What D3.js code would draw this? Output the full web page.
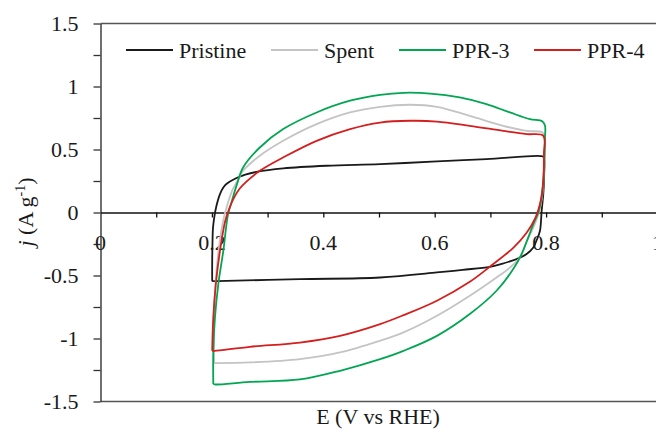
<!DOCTYPE html>
<html>
<head>
<meta charset="utf-8">
<script src="https://cdn.jsdelivr.net/npm/d3@7"></script>
<style>
  html, body { margin: 0; padding: 0; background: #fff; }
  svg { display: block; }
</style>
</head>
<body>
<svg id="chart" width="656" height="435"></svg>
<script>
// ---- Data (E in V vs RHE, j in A g^-1), closed CV loops ----
const seriesNames = ["Pristine", "Spent", "PPR-3", "PPR-4"];
const seriesColors = ["#1a1a1a", "#c4c4c4", "#00a651", "#d41f1f"];

const pristine = [
  [0.2005,-0.545],[0.2005,-0.40],[0.201,-0.25],[0.202,-0.12],[0.2045,-0.03],[0.208,0.05],
  [0.2145,0.146],[0.2205,0.198],[0.2265,0.228],[0.2415,0.268],[0.260,0.300],[0.280,0.322],
  [0.328,0.350],[0.406,0.371],[0.502,0.384],[0.604,0.405],[0.693,0.424],[0.790,0.448],
  [0.7955,0.44],[0.7965,0.30],[0.795,0.15],[0.792,0.013],[0.789,-0.145],[0.783,-0.22],
  [0.777,-0.278],[0.765,-0.33],[0.747,-0.37],[0.720,-0.408],[0.699,-0.431],[0.650,-0.455],
  [0.604,-0.476],[0.502,-0.516],[0.358,-0.529],[0.2086,-0.545],[0.2005,-0.545]
];
const spent = [
  [0.204,-1.195],[0.2035,-0.9],[0.206,-0.6],[0.212,-0.3],[0.221,-0.05],[0.229,0.08],
  [0.237,0.18],[0.247,0.26],[0.256,0.331],[0.286,0.45],[0.328,0.569],[0.388,0.701],
  [0.448,0.794],[0.502,0.839],[0.556,0.855],[0.604,0.839],[0.663,0.767],[0.723,0.688],
  [0.765,0.648],[0.793,0.636],[0.797,0.60],[0.796,0.3],[0.792,0.1],[0.785,-0.03],
  [0.776,-0.13],[0.765,-0.23],[0.753,-0.357],[0.735,-0.437],[0.711,-0.516],[0.663,-0.661],
  [0.604,-0.82],[0.544,-0.952],[0.502,-1.018],[0.43,-1.111],[0.358,-1.164],[0.268,-1.19],
  [0.208,-1.195],[0.204,-1.195]
];
const ppr3 = [
  [0.2025,-1.362],[0.2025,-1.10],[0.2055,-0.833],[0.2115,-0.568],[0.2205,-0.304],[0.229,-0.013],
  [0.236,0.093],[0.245,0.225],[0.256,0.357],[0.286,0.516],[0.328,0.662],[0.388,0.794],
  [0.448,0.887],[0.502,0.934],[0.544,0.95],[0.592,0.944],[0.645,0.913],[0.693,0.86],
  [0.735,0.794],[0.771,0.741],[0.793,0.725],[0.798,0.69],[0.798,0.595],[0.796,0.331],
  [0.792,0.119],[0.786,0.0],[0.777,-0.092],[0.768,-0.198],[0.756,-0.33],[0.741,-0.449],
  [0.711,-0.621],[0.663,-0.806],[0.604,-0.979],[0.544,-1.098],[0.502,-1.164],[0.43,-1.256],
  [0.358,-1.325],[0.268,-1.345],[0.207,-1.365],[0.2025,-1.362]
];
const ppr4 = [
  [0.2005,-1.098],[0.2025,-0.833],[0.207,-0.568],[0.2145,-0.304],[0.224,-0.066],[0.232,0.04],
  [0.240,0.12],[0.250,0.19],[0.262,0.245],[0.286,0.331],[0.328,0.437],[0.388,0.569],
  [0.448,0.662],[0.502,0.714],[0.556,0.728],[0.604,0.722],[0.663,0.688],[0.723,0.648],
  [0.765,0.622],[0.795,0.609],[0.796,0.463],[0.795,0.251],[0.789,0.067],[0.781,-0.04],
  [0.765,-0.16],[0.741,-0.28],[0.699,-0.43],[0.663,-0.55],[0.604,-0.70],[0.544,-0.815],
  [0.502,-0.886],[0.43,-0.979],[0.358,-1.032],[0.268,-1.066],[0.205,-1.098],[0.2005,-1.098]
];
const seriesData = [pristine, spent, ppr3, ppr4];

const xTickLabels = [0, 0.2, 0.4, 0.6, 0.8, 1];
const xMinorTicks = [0.1,0.2,0.3,0.4,0.5,0.6,0.7,0.8,0.9,1];
const yTicks = [-1.5,-1.25,-1,-0.75,-0.5,-0.25,0,0.25,0.5,0.75,1,1.25,1.5];
const yTickLabels = [-1.5,-1,-0.5,0,0.5,1,1.5];

// ---- Layout ----
const FONT = "'Liberation Serif', 'Times New Roman', Tinos, 'DejaVu Serif', serif";
const svg = d3.select("#chart");
const x = d3.scaleLinear().domain([0, 1]).range([100.5, 657.5]);
const y = d3.scaleLinear().domain([-1.5, 1.5]).range([401.5, 23.5]);
const FS = 22;
const fmt = d => String(d);

// Plot frame (top and bottom)
svg.append("line").attr("x1", x(0)).attr("x2", 656).attr("y1", y(1.5)).attr("y2", y(1.5))
  .attr("stroke", "#555").attr("stroke-width", 1.4);
svg.append("line").attr("x1", x(0)).attr("x2", 656).attr("y1", y(-1.5)).attr("y2", y(-1.5))
  .attr("stroke", "#555").attr("stroke-width", 1.4);

// Y axis
const yAxis = d3.axisLeft(y).tickValues(yTicks).tickSizeInner(7).tickSizeOuter(0).tickPadding(15)
  .tickFormat(d => yTickLabels.includes(d) ? fmt(d) : "");
const gy = svg.append("g").attr("transform", `translate(${x(0)},0)`).call(yAxis)
  .attr("font-family", FONT).attr("font-size", FS);
gy.select(".domain").attr("stroke", "#333").attr("stroke-width", 1.4);
gy.selectAll(".tick line").attr("stroke", "#333").attr("stroke-width", 1.3);
gy.selectAll("text").attr("fill", "#1a1a1a").style("font-family", FONT).style("font-size", FS + "px");

// X axis at j = 0
const xAxis = d3.axisBottom(x).tickValues(xMinorTicks).tickSizeInner(5).tickSizeOuter(0).tickFormat("");
const gx = svg.append("g").attr("transform", `translate(0,${y(0)})`).call(xAxis);
gx.select(".domain").attr("stroke", "#111").attr("stroke-width", 1.4);
gx.selectAll(".tick line").attr("stroke", "#111").attr("stroke-width", 1.3);
gx.selectAll(".xlab").data(xTickLabels).enter().append("text")
  .attr("x", d => x(d)).attr("y", 37).attr("text-anchor", "middle")
  .attr("fill", "#1a1a1a").style("font-family", FONT).style("font-size", FS + "px")
  .text(d => fmt(d));

// Curves
const line = d3.line().x(d => x(d[0])).y(d => y(d[1])).curve(d3.curveCatmullRom.alpha(0.5));
svg.append("g").selectAll("path").data(seriesData).enter().append("path")
  .attr("d", d => line(d)).attr("fill", "none")
  .attr("stroke", (d, i) => seriesColors[i]).attr("stroke-width", 1.8)
  .attr("stroke-linejoin", "round");

// Legend
const legendX = [126, 271, 399, 534];
const lg = svg.append("g").selectAll("g").data(seriesNames).enter().append("g")
  .attr("transform", (d, i) => `translate(${legendX[i]},50)`);
lg.append("line").attr("x1", 0).attr("x2", 47).attr("y1", 0).attr("y2", 0)
  .attr("stroke", (d, i) => seriesColors[i]).attr("stroke-width", 2);
lg.append("text").attr("x", 53).attr("y", 7.5).attr("fill", "#1a1a1a")
  .style("font-family", FONT).style("font-size", FS + "px").text(d => d);

// Axis titles
svg.append("text").attr("x", 378).attr("y", 424).attr("text-anchor", "middle")
  .attr("fill", "#1a1a1a").style("font-family", FONT).style("font-size", FS + "px")
  .text("E (V vs RHE)");
const yt = svg.append("text").attr("transform", "translate(33,212) rotate(-90)")
  .attr("text-anchor", "middle").attr("fill", "#1a1a1a")
  .style("font-family", FONT).style("font-size", FS + "px");
yt.append("tspan").attr("font-style", "italic").text("j");
yt.append("tspan").text(" (A g");
yt.append("tspan").style("font-size", "14px").attr("dy", -8).text("-1");
yt.append("tspan").attr("dy", 8).text(")");
</script>
</body>
</html>
